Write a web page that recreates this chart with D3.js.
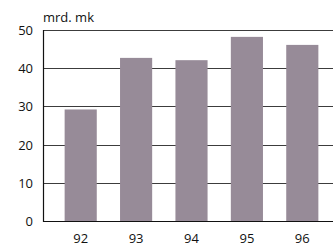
<!DOCTYPE html>
<html>
<head>
<meta charset="utf-8">
<script src="https://cdn.jsdelivr.net/npm/d3@7"></script>
<style>
  body { margin: 0; background: #fff; }
  text { font-family: "Open Sans", "Noto Sans", sans-serif; fill: #111; }
</style>
</head>
<body>
<svg id="chart" width="333" height="246"></svg>
<script>
// values
let years = ["92", "93", "94", "95", "96"];
let values = [29.2, 42.7, 42.1, 48.2, 46.1];
let yTicks = [0, 10, 20, 30, 40, 50];
let unitLabel = "mrd. mk";

let w = 333, h = 246;
let plotLeft = 43, plotTop = 30, plotBottom = 221;

let svg = d3.select("#chart");

let x = d3.scaleBand()
  .domain(years)
  .range([53, 330])
  .paddingInner(0.42)
  .paddingOuter(0.21);

let y = d3.scaleLinear()
  .domain([0, 50])
  .range([plotBottom, plotTop]);

// gridlines
svg.append("g")
  .selectAll("line")
  .data(yTicks.filter(d => d > 0))
  .enter()
  .append("line")
  .attr("x1", plotLeft)
  .attr("x2", w)
  .attr("y1", d => Math.round(y(d)) + 0.5)
  .attr("y2", d => Math.round(y(d)) + 0.5)
  .attr("stroke", "#3c3c3c")
  .attr("stroke-width", 1);

// bars
svg.append("g")
  .selectAll("rect")
  .data(values)
  .enter()
  .append("rect")
  .attr("x", (d, i) => x(years[i]))
  .attr("width", x.bandwidth())
  .attr("y", d => y(d))
  .attr("height", d => y(0) - y(d))
  .attr("fill", "#978b98");

// axes lines
svg.append("line")
  .attr("x1", plotLeft + 0.5).attr("x2", plotLeft + 0.5)
  .attr("y1", plotTop).attr("y2", plotBottom + 1)
  .attr("stroke", "#111").attr("stroke-width", 1.2);
svg.append("line")
  .attr("x1", plotLeft).attr("x2", w)
  .attr("y1", plotBottom + 0.5).attr("y2", plotBottom + 0.5)
  .attr("stroke", "#111").attr("stroke-width", 1.2);

// y tick labels
svg.append("g")
  .selectAll("text")
  .data(yTicks)
  .enter()
  .append("text")
  .attr("x", 33)
  .attr("y", d => y(d) + 5)
  .attr("text-anchor", "end")
  .attr("font-size", "13px")
  .text(d => d);

// x tick labels
svg.append("g")
  .selectAll("text")
  .data(years)
  .enter()
  .append("text")
  .attr("x", d => x(d) + x.bandwidth() / 2)
  .attr("y", 243)
  .attr("text-anchor", "middle")
  .attr("font-size", "13px")
  .text(d => d);

svg.append("text")
  .attr("x", 43)
  .attr("y", 22)
  .attr("font-size", "13px")
  .text(unitLabel);
</script>
</body>
</html>
